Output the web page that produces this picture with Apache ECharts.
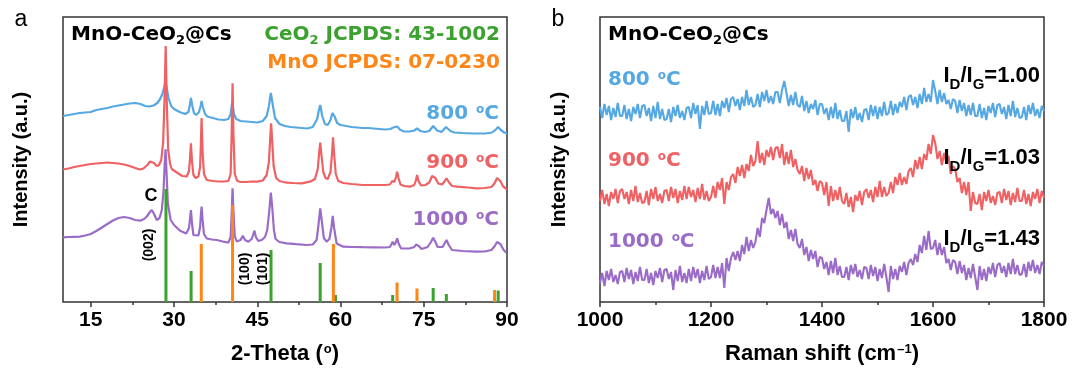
<!DOCTYPE html>
<html>
<head>
    <meta charset="utf-8">
    <title>MnO-CeO2@Cs XRD / Raman</title>
    <script src="https://cdn.jsdelivr.net/npm/echarts@6/dist/echarts.min.js"></script>
    <style>
        html, body { margin: 0; padding: 0; background: #fff; }
        #main { width: 1072px; height: 370px; }
    </style>
</head>
<body>
<div id="main"></div>
<script type="text/javascript">
// ---- (a) XRD, [2theta, intensity] (offset curves) ----
var xrd800 = [[10,186],[11,187],[12,188],[13,189],[14,189.5],[15,190],[16,192],[17,193],[18,194],[19,195.5],[20,196.5],[21,197.5],[22,198.5],[23,199],[24,198],[24.8,196],[25.5,195.5],[26.3,196.5],[27,199],[27.5,203],[27.9,208],[28.2,214],[28.45,220],[28.7,214],[29,204],[29.5,196],[30,193],[31,190],[32,188],[32.6,190],[32.85,197],[33.05,204],[33.3,196],[33.6,189],[34,187],[34.5,190],[34.8,196],[34.97,201],[35.2,195],[35.6,188],[36,185.5],[37,184],[38,182.5],[39,182],[39.8,183],[40.2,188],[40.5,200],[40.8,188],[41.2,183],[42,181],[43,180.5],[44,180],[45,179.5],[46,181],[46.7,186],[47.1,196],[47.45,209],[47.8,197],[48.2,184],[49,178],[50,176],[51,175],[52,174.5],[53,174],[54,173.5],[55,175],[55.8,183],[56.1,192],[56.35,197],[56.7,186],[57.2,178],[57.7,177],[58.2,182],[58.55,189],[58.9,186],[59.4,179],[60,177],[61,176],[62,175],[63,174.5],[64,174],[65,174],[66,173.5],[67,173],[68,172.5],[69,173],[69.5,174.5],[69.8,174],[70.2,175.5],[70.8,172],[71.5,170.5],[72.5,170.5],[73.3,171.5],[73.8,173.5],[74.4,171],[75.2,170],[76,171],[76.7,176],[77.4,171.5],[78.2,170],[79,175],[79.8,171],[80.5,169.5],[82,169],[84,168.5],[86,168.5],[87.3,169.5],[88,172.5],[88.4,175],[88.9,172],[89.5,169.5],[90,168.5]];
var xrd900 = [[10,132.5],[11,133.5],[12,135],[13,136],[14,137],[15,138],[16,138.5],[17,139],[18,139.5],[19,139],[20,138.5],[21,137.5],[22,136],[23,134],[23.9,132.5],[24.5,133.5],[25.2,137],[25.7,140.5],[26,141.3],[26.4,139],[26.9,136],[27.3,137],[27.7,142],[28.05,160],[28.3,205],[28.5,256],[28.7,200],[28.95,152],[29.3,138],[29.6,133],[30.5,129.5],[31.5,126],[32.3,125.5],[32.7,131],[32.9,145],[33.05,158.7],[33.25,140],[33.5,127],[33.9,124],[34.4,125.5],[34.7,135],[34.85,160],[34.97,184],[35.15,150],[35.4,128],[35.9,122],[37,121],[38,120.5],[39,120.5],[39.8,121],[40.2,128],[40.4,170],[40.55,218.7],[40.7,170],[40.95,128],[41.4,121],[42,120],[43,120],[44,120.5],[45,120.3],[46,121.5],[46.7,127],[47.1,140],[47.35,165],[47.5,178.7],[47.7,160],[47.95,136],[48.4,124],[49,121],[50.3,119.3],[51.5,119],[53,118.7],[54.5,120.3],[55.4,123],[55.9,133],[56.2,152],[56.35,159.3],[56.55,148],[56.9,130],[57.3,124],[57.7,123],[58.2,130],[58.5,150],[58.65,164.7],[58.85,148],[59.15,128],[59.6,121],[60.5,119],[62,118],[64,117],[66,117],[68,117],[68.9,117.5],[69.3,121],[69.45,122.7],[69.7,120],[70,125],[70.2,130.3],[70.45,124],[70.8,117.5],[71.5,116],[72.5,115.3],[73.3,117],[73.6,122],[73.8,127],[74.05,121],[74.5,116.5],[75.3,117],[76,119.5],[76.5,126],[76.75,128],[77.1,124],[77.6,118.5],[78.3,117.5],[78.8,121],[79.1,123.7],[79.5,120],[80.1,116],[81,115.3],[83,114.5],[84.5,113.7],[86,114],[87.2,115],[87.8,119],[88.2,124],[88.45,125.3],[88.8,121],[89.3,115.5],[90,112.7]];
var xrd1000 = [[10,64.7],[11,65],[12,65.2],[13,65.3],[14,66.5],[15,68],[16,71],[17,74.5],[18,78],[19,81.5],[20,84],[21,85],[22,84],[23,82],[23.9,81.3],[24.6,83],[25.1,85.5],[25.6,89.5],[26,92],[26.4,88],[26.9,82],[27.4,84],[27.8,92],[28.1,110],[28.3,135],[28.48,152.7],[28.65,130],[28.9,98],[29.4,82],[30,77],[31.1,71.3],[32.2,68.5],[32.7,74],[32.9,84],[33.05,92],[33.25,78],[33.5,67],[33.8,65.3],[34.4,66.5],[34.7,75],[34.85,88],[34.97,95.3],[35.15,82],[35.4,68],[35.9,63.5],[36.8,62.5],[37.7,62],[38.8,60.5],[39.8,59.3],[40.2,65],[40.4,90],[40.55,113.7],[40.7,92],[40.95,66],[41.3,60.5],[42,62],[42.4,66.3],[42.8,62],[43.4,60.3],[44,63],[44.3,68],[44.5,71.3],[44.75,65],[45.2,61],[45.8,62],[46.4,65],[46.8,72],[47.15,90],[47.45,109.3],[47.7,95],[48,72],[48.3,63],[49,60],[50.3,58.7],[52,57.8],[53.9,57],[55,57.5],[55.7,62],[56.05,78],[56.35,93.7],[56.65,80],[57,64],[57.5,60.3],[58,63],[58.35,74],[58.6,86],[58.85,74],[59.3,58.5],[60.5,55.3],[62,55],[64,54.8],[66,54.7],[68,54.5],[68.9,55],[69.2,58],[69.4,60.3],[69.7,57],[70,60],[70.2,63.7],[70.5,58],[70.9,53.7],[72.4,53.5],[73.3,55],[73.6,57.5],[73.8,59.3],[74.1,56],[74.6,53],[75.7,55],[76.3,60],[76.7,64.3],[77.1,60],[77.5,55],[78.4,55],[78.8,59],[79.1,62],[79.5,57],[80.1,52],[82,51],[84.5,50.3],[86,50.5],[87.2,52],[87.8,56],[88.2,60],[88.4,61],[88.8,58],[89.4,52],[89.9,49.3]];
// reference patterns (stick heights)
var ceo2Ref = [[28.55,113],[33.08,31],[47.48,52],[56.34,39],[59.09,7],[69.4,7],[76.7,14],[79.07,8],[88.41,11.5]];
var mnoRef = [[34.91,58],[40.55,97],[58.72,58],[70.19,19.5],[73.78,13.5],[87.76,12]];
var xrdTicks = [15, 30, 45, 60, 75, 90];
var xrdMinorTicks = [22.5, 37.5, 52.5, 67.5, 82.5];

// ---- (b) Raman, one value every 4 cm-1 from 1000 to 1800 ----
var ramanStart = 1000, ramanStep = 4;
var raman800 = [195,184,198,187,196,182,194,185,199,186,
    186,197,183,193,181,195,188,198,184,196,
    197,186,194,181,196,184,200,183,193,182,
    183,193,180,195,186,197,184,191,182,194,
    195,184,199,188,197,173,196,187,201,188,
    189,201,187,198,186,201,194,204,190,203,
    205,196,203,192,205,196,212,197,205,195,
    197,208,195,210,201,212,199,206,198,210,
    210,199,212,221,209,196,207,197,210,197,
    195,206,191,201,189,198,193,202,187,198,
    198,188,194,182,195,184,199,183,192,181,
    181,191,170,193,184,195,182,189,180,192,
    193,182,197,186,196,183,195,186,200,187,
    189,201,187,198,189,200,195,205,192,205,
    207,197,205,194,208,198,214,200,208,200,
    222,211,198,212,200,209,198,202,193,203,
    201,189,202,191,199,186,197,187,199,186,
    186,198,184,194,182,196,189,199,185,197,
    198,188,195,183,197,186,201,185,194,184,
    185,195,182,197,188,199,186,193,184,196,
    191];
var raman900 = [101,112,98,108,96,110,103,113,99,111,
    113,103,110,98,112,101,116,100,109,99,
    100,111,97,113,103,115,101,108,99,111,
    112,101,115,104,113,99,111,102,116,103,
    115,105,112,100,114,103,118,102,111,101,
    105,116,104,120,112,124,98,120,112,125,
    128,119,135,126,137,124,138,131,147,136,
    141,161,139,149,137,152,145,155,142,154,
    155,144,158,137,150,138,152,135,143,132,
    128,136,121,134,123,132,117,122,111,121,
    119,107,120,96,116,101,112,102,115,101,
    98,109,95,105,90,107,101,111,97,110,
    113,104,112,100,115,105,121,105,115,106,
    109,120,109,125,117,129,117,125,118,131,
    134,125,142,133,145,133,148,142,158,148,
    167,159,143,151,137,149,139,146,128,136,
    133,120,124,109,120,107,120,91,110,99,
    98,108,92,110,101,112,99,106,97,109,
    110,99,113,102,111,97,109,100,114,101,
    101,112,98,108,96,110,103,113,99,111,
    104];
var raman1000 = [19,29,16,31,22,33,20,27,18,30,
    31,20,34,23,32,18,30,21,35,22,
    22,33,19,29,17,31,24,34,20,32,
    33,23,30,12,32,21,36,20,29,19,
    33,21,35,24,33,19,31,22,36,23,
    25,37,24,35,24,39,14,44,31,44,
    50,42,51,41,57,48,65,51,62,54,
    60,74,65,84,79,92,104,88,93,84,
    91,77,88,74,80,63,72,61,73,58,
    54,63,47,55,41,52,43,51,35,45,
    44,33,40,27,41,29,44,27,36,25,
    25,35,22,37,28,38,25,32,23,35,
    34,23,37,26,35,21,33,24,38,25,
    10,36,23,33,22,36,30,40,27,39,
    43,37,48,40,57,49,66,52,71,53,
    54,62,47,59,47,55,39,43,32,42,
    40,28,41,29,37,22,34,24,38,25,
    12,36,22,33,21,35,28,39,25,37,
    39,29,36,25,39,28,43,28,37,27,
    28,38,25,40,31,42,29,37,28,40,
    36];

var BLUE = '#56a8e2', RED = '#ef6163', PURPLE = '#9a6cc7', GREEN = '#3ba12f', ORANGE = '#ff8517';
var AXIS = '#333';
var ARIAL = 'Liberation Sans, Arial, sans-serif';
var DJ = 'DejaVu Sans, sans-serif';

function toPairs(arr) {
    return arr.map(function (v, i) { return [ramanStart + i * ramanStep, v]; });
}

// rich text styles: n normal, sub subscript (pushed down by padding), sup superscript
function richSet(size, color, family, subSize, subDrop) {
    subSize = subSize || Math.round(size * 0.65);
    subDrop = subDrop || 5.5;
    var supSize = Math.round(size * 0.6);
    function st(fs, extra) {
        var s = {fontSize: fs, fontWeight: 'bold', fontFamily: family, color: color, fill: color, verticalAlign: 'top'};
        return Object.assign(s, extra || {});
    }
    return {
        n: st(size),
        sub: st(subSize, {padding: [subDrop + (size - subSize) / 2, 0, 0, 0]}),
        sup: st(supSize, {padding: [0, 0, 0, 1]})
    };
}

// yc = centre of the normal-size text
function label(x, yc, text, size, color, align, family, subSize, subDrop) {
    return {
        type: 'text', x: x, y: yc - size / 2, z: 10,
        style: {text: text, rich: richSet(size, color, family, subSize, subDrop), align: align, verticalAlign: 'top'}
    };
}

function plain(x, y, text, size, weight, rot) {
    return {
        type: 'text', x: x, y: y, z: 10, rotation: rot || 0,
        style: {text: text, fontSize: size, fontWeight: weight, fontFamily: ARIAL, fill: '#000', align: 'center', verticalAlign: 'middle'}
    };
}

var tickLabel = {fontSize: 21, fontWeight: 'bold', fontFamily: ARIAL, color: '#000', margin: 8};
var nameStyle = {fontSize: 22, fontWeight: 'bold', fontFamily: ARIAL, color: '#000'};
var nameRich = richSet(22, '#000', ARIAL);
var yNameStyle = {fontSize: 20, fontWeight: 'bold', fontFamily: ARIAL, color: '#000'};

var chart = echarts.init(document.getElementById('main'));

chart.setOption({
    animation: false,
    backgroundColor: '#fff',
    grid: [
        {left: 63, right: 565, top: 17, bottom: 68, show: true, borderColor: AXIS, borderWidth: 1.5},
        {left: 600, right: 28, top: 17, bottom: 68, show: true, borderColor: AXIS, borderWidth: 1.5}
    ],
    xAxis: [
        {
            gridIndex: 0, type: 'value', min: 10, max: 90,
            axisLine: {show: false},
            axisTick: {customValues: xrdTicks, length: 5, lineStyle: {color: AXIS, width: 1.5}},
            axisLabel: Object.assign({customValues: xrdTicks}, tickLabel),
            splitLine: {show: false},
            name: '{n|2-Theta (}{sup|o}{n|)}', nameLocation: 'middle', nameGap: 41,
            nameTextStyle: Object.assign({rich: nameRich}, nameStyle)
        },
        {
            gridIndex: 0, type: 'value', min: 10, max: 90, position: 'bottom',
            axisLine: {show: false},
            axisTick: {customValues: xrdMinorTicks, length: 3, lineStyle: {color: AXIS, width: 1.5}},
            axisLabel: {show: false},
            splitLine: {show: false}
        },
        {
            gridIndex: 1, type: 'value', min: 1000, max: 1800, interval: 200,
            axisLine: {show: false},
            axisTick: {length: 5, lineStyle: {color: AXIS, width: 1.5}},
            minorTick: {show: true, splitNumber: 2, length: 3, lineStyle: {color: AXIS, width: 1.5}},
            axisLabel: Object.assign({formatter: function (v) { return String(v); }}, tickLabel),
            splitLine: {show: false},
            name: '{n|Raman shift (cm}{sup|\u20131}{n|)}', nameLocation: 'middle', nameGap: 41,
            nameTextStyle: Object.assign({rich: nameRich}, nameStyle)
        }
    ],
    yAxis: [
        {
            gridIndex: 0, type: 'value', min: 0, max: 285,
            axisLine: {show: false}, axisTick: {show: false}, axisLabel: {show: false}, splitLine: {show: false},
            name: 'Intensity (a.u.)', nameLocation: 'middle', nameGap: 32, nameTextStyle: yNameStyle
        },
        {
            gridIndex: 1, type: 'value', min: 0, max: 285,
            axisLine: {show: false}, axisTick: {show: false}, axisLabel: {show: false}, splitLine: {show: false},
            name: 'Intensity (a.u.)', nameLocation: 'middle', nameGap: 31, nameTextStyle: yNameStyle
        }
    ],
    series: [
        {name: '800', type: 'line', xAxisIndex: 0, yAxisIndex: 0, data: xrd800, showSymbol: false, z: 2,
            lineStyle: {color: BLUE, width: 2.2}, itemStyle: {color: BLUE}},
        {name: '900', type: 'line', xAxisIndex: 0, yAxisIndex: 0, data: xrd900, showSymbol: false, z: 2,
            lineStyle: {color: RED, width: 2.2}, itemStyle: {color: RED}},
        {name: '1000', type: 'line', xAxisIndex: 0, yAxisIndex: 0, data: xrd1000, showSymbol: false, z: 2,
            lineStyle: {color: PURPLE, width: 2.2}, itemStyle: {color: PURPLE}},
        {name: 'CeO2', type: 'bar', xAxisIndex: 0, yAxisIndex: 0, data: ceo2Ref, barWidth: 3, barGap: '-100%', z: 3,
            itemStyle: {color: GREEN}},
        {name: 'MnO', type: 'bar', xAxisIndex: 0, yAxisIndex: 0, data: mnoRef, barWidth: 3, barGap: '-100%', z: 3,
            itemStyle: {color: ORANGE}},

        {name: 'R800', type: 'line', xAxisIndex: 2, yAxisIndex: 1, data: toPairs(raman800), showSymbol: false,
            lineStyle: {color: BLUE, width: 2.1}, itemStyle: {color: BLUE}},
        {name: 'R900', type: 'line', xAxisIndex: 2, yAxisIndex: 1, data: toPairs(raman900), showSymbol: false,
            lineStyle: {color: RED, width: 2.1}, itemStyle: {color: RED}},
        {name: 'R1000', type: 'line', xAxisIndex: 2, yAxisIndex: 1, data: toPairs(raman1000), showSymbol: false,
            lineStyle: {color: PURPLE, width: 2.1}, itemStyle: {color: PURPLE}}
    ],
    graphic: [
        // panel a
        plain(21, 19.5, 'a', 23, 'normal'),
        label(71, 35, '{n|MnO-CeO}{sub|2}{n|@Cs}', 20, '#000', 'left', DJ),
        label(500, 35, '{n|CeO}{sub|2}{n| JCPDS: 43-1002}', 20, GREEN, 'right', DJ),
        label(500, 63, '{n|MnO JCPDS: 07-0230}', 20, ORANGE, 'right', DJ),
        label(499, 114, '{n|800 }{sup|o}{n|C}', 20, BLUE, 'right', DJ),
        label(499, 163, '{n|900 }{sup|o}{n|C}', 20, RED, 'right', DJ),
        label(499, 220, '{n|1000 }{sup|o}{n|C}', 20, PURPLE, 'right', DJ),
        plain(151, 196, 'C', 18, 'bold'),
        plain(149, 245, '(002)', 14, 'bold', Math.PI / 2),
        plain(245, 269, '(100)', 14, 'bold', Math.PI / 2),
        plain(263, 269, '(101)', 14, 'bold', Math.PI / 2),
        // panel b
        plain(558, 19.5, 'b', 23, 'normal'),
        label(608, 35, '{n|MnO-CeO}{sub|2}{n|@Cs}', 20, '#000', 'left', DJ),
        label(608, 80, '{n|800 }{sup|o}{n|C}', 20, BLUE, 'left', DJ),
        label(608, 161, '{n|900 }{sup|o}{n|C}', 20, RED, 'left', DJ),
        label(608, 242, '{n|1000 }{sup|o}{n|C}', 20, PURPLE, 'left', DJ),
        label(1040, 76, '{n|I}{sub|D}{n|/I}{sub|G}{n|=1.00}', 22, '#000', 'right', ARIAL, 15, 8.5),
        label(1040, 158, '{n|I}{sub|D}{n|/I}{sub|G}{n|=1.03}', 22, '#000', 'right', ARIAL, 15, 8.5),
        label(1040, 239, '{n|I}{sub|D}{n|/I}{sub|G}{n|=1.43}', 22, '#000', 'right', ARIAL, 15, 8.5)
    ]
});
</script>
</body>
</html>
